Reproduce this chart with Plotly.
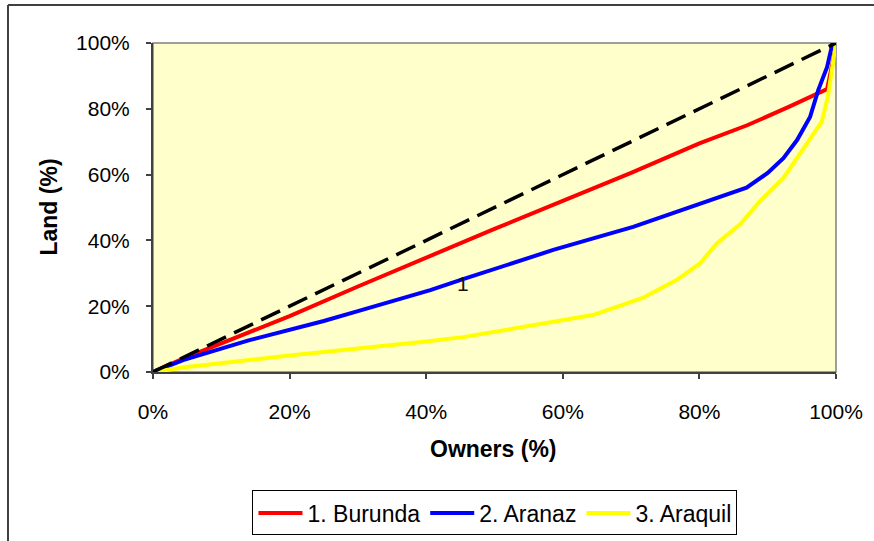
import plotly.graph_objects as go

# Lorenz curves of land distribution: cumulative % of owners vs cumulative % of land
burunda_x = [0, 5, 10, 20, 30, 40, 50, 60, 70, 80, 87, 93, 98.7, 99.6, 100]
burunda_y = [0, 4.6, 8.7, 17, 26, 34.8, 43.5, 52, 60.5, 69.5, 75, 80.5, 86, 95, 100]

aranaz_x = [0, 4.4, 14, 25, 30, 40.6, 45.4, 58.6, 70.3, 79.7, 86.9, 90, 92.3, 94.3, 96.2, 97.4, 98.7, 99.5]
aranaz_y = [0, 3.6, 9.6, 15.5, 18.5, 24.9, 28.2, 37.1, 44.1, 51, 56, 60.5, 65, 70.5, 77.5, 85.7, 92.7, 100]

araquil_x = [0, 5, 20, 30, 40, 45.4, 57.7, 64.4, 71.7, 76.7, 80.1, 82.5, 86, 88.9, 92.3, 94.7, 97.9, 98.8, 99.6, 100]
araquil_y = [0, 1.5, 5, 7, 9.3, 10.6, 14.9, 17.3, 22.5, 28, 33, 39, 45, 52, 59, 66.5, 76, 83.6, 95, 100]

equality_x = [0, 100]
equality_y = [0, 100]

tick_vals = [0, 20, 40, 60, 80, 100]
tick_text = ["0%", "20%", "40%", "60%", "80%", "100%"]

FONT = "Liberation Sans, Arial, sans-serif"

fig = go.Figure()
fig.add_trace(go.Scatter(x=burunda_x, y=burunda_y, mode="lines", name="1. Burunda",
                         line=dict(color="#FF0000", width=4)))
fig.add_trace(go.Scatter(x=aranaz_x, y=aranaz_y, mode="lines", name="2. Aranaz",
                         line=dict(color="#0000FF", width=4)))
fig.add_trace(go.Scatter(x=araquil_x, y=araquil_y, mode="lines", name="3. Araquil",
                         line=dict(color="#FFFF00", width=4)))
fig.add_trace(go.Scatter(x=equality_x, y=equality_y, mode="lines", showlegend=False,
                         line=dict(color="#000000", width=3.5, dash="21px,9px")))

axis_common = dict(
    range=[0, 100], tickvals=tick_vals, ticktext=tick_text,
    showgrid=False, zeroline=False,
    showline=True, linecolor="#404040", linewidth=2,
    ticks="outside", ticklen=5, tickwidth=1.5, tickcolor="#404040",
    tickfont=dict(family=FONT, size=21, color="#000000"),
)

fig.update_layout(
    width=874, height=541,
    margin=dict(l=153, r=38, t=43, b=169, autoexpand=False),
    paper_bgcolor="#FFFFFF",
    plot_bgcolor="#FFFFCC",
    xaxis=dict(**axis_common, ticklabelstandoff=15),
    yaxis=dict(**axis_common, ticklabelstandoff=12),
    showlegend=True,
    legend=dict(
        orientation="h", x=0.5007, xanchor="center", y=-0.36, yanchor="top",
        bordercolor="#000000", borderwidth=1, bgcolor="#FFFFFF",
        font=dict(family=FONT, size=23, color="#000000"),
        itemwidth=44, tracegroupgap=0,
    ),
    shapes=[
        # outer chart frame: left and top edges
        dict(type="line", xref="paper", yref="paper",
             x0=-0.2123, x1=-0.2123, y0=1.1155, y1=-0.5137,
             line=dict(color="#404040", width=2), layer="below"),
        dict(type="line", xref="paper", yref="paper",
             x0=-0.2123, x1=1.0556, y0=1.1155, y1=1.1155,
             line=dict(color="#404040", width=2), layer="below"),
        # plot area border (top/right)
        dict(type="rect", xref="paper", yref="paper",
             x0=0, x1=1, y0=0, y1=1,
             line=dict(color="#808080", width=1.5), layer="below"),
    ],
    annotations=[
        dict(text="<b>Owners (%)</b>", xref="paper", yref="paper",
             x=0.4985, y=-0.234, xanchor="center", yanchor="middle",
             showarrow=False, font=dict(family=FONT, size=23, color="#000000")),
        dict(text="<b>Land (%)</b>", xref="paper", yref="paper",
             x=-0.1537, y=0.5, xanchor="center", yanchor="middle", textangle=-90,
             showarrow=False, font=dict(family=FONT, size=23, color="#000000")),
        dict(text="1", x=45.4, y=26.8, xref="x", yref="y",
             xanchor="center", yanchor="middle", showarrow=False,
             font=dict(family=FONT, size=21, color="#111111")),
    ],
)

fig.write_html("out.html", config={"displayModeBar": False})
